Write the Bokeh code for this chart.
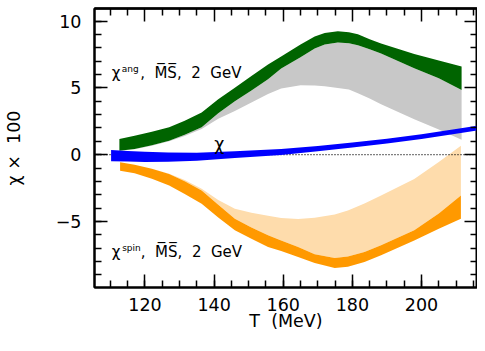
from bokeh.plotting import figure
from bokeh.models import Range1d, LinearAxis, SingleIntervalTicker, FixedTicker, Label
from bokeh.embed import file_html
from bokeh.resources import INLINE

# ---------------- data ----------------
# chi^ang band (green on top of gray)
T_ang = [112.6, 117, 122, 127, 131.5, 136.4, 141.2, 146, 150.8, 155.6, 159.4, 165,
         169.1, 172, 175.8, 179, 181.6, 185, 188.3, 197.9, 205, 211.6]
ang_green_hi = [1.17, 1.42, 1.72, 2.05, 2.55, 3.16, 4.15, 5.02, 5.90, 6.75, 7.35, 8.25,
                8.85, 9.12, 9.25, 9.18, 9.02, 8.65, 8.32, 7.54, 7.05, 6.60]
ang_green_lo = [0.30, 0.42, 0.70, 1.05, 1.50, 2.06, 3.10, 4.00, 4.80, 5.65, 6.45, 7.30,
                7.95, 8.25, 8.40, 8.35, 8.20, 7.90, 7.58, 6.48, 5.72, 4.85]
ang_gray_lo = [0.30, 0.40, 0.66, 1.00, 1.40, 1.92, 2.70, 3.28, 3.90, 4.55, 4.95, 5.20,
               5.18, 5.12, 5.00, 4.88, 4.60, 4.20, 3.78, 2.66, 1.88, 1.12]

# chi^spin band (orange below light orange)
T_spin = [112.8, 117, 122, 127, 131.5, 136.4, 141.2, 146, 150.8, 155.6, 159.4, 164.3,
          169.1, 174.9, 178.7, 183.5, 188.3, 197.9, 205, 211.4]
spin_light_hi = [-0.57, -0.75, -1.05, -1.42, -1.90, -2.55, -3.40, -4.05, -4.35, -4.58, -4.75, -4.82,
                 -4.73, -4.48, -4.18, -3.65, -3.06, -1.82, -0.55, 0.67]
spin_orange_hi = [-0.57, -0.75, -1.05, -1.44, -2.00, -2.69, -3.75, -4.80, -5.45, -6.04, -6.42, -6.92,
                  -7.46, -7.74, -7.62, -7.29, -6.79, -5.67, -4.40, -3.06]
spin_orange_lo = [-1.20, -1.40, -1.80, -2.31, -2.95, -3.68, -4.70, -5.67, -6.30, -6.92, -7.22, -7.66,
                  -8.11, -8.48, -8.40, -8.04, -7.54, -6.42, -5.55, -4.80]

# total chi band (blue)
T_chi = [110.2, 115, 120, 126.7, 135, 146, 159.4, 170, 180, 190, 200, 211.4, 218.3]
chi_hi = [0.35, 0.28, 0.22, 0.17, 0.15, 0.25, 0.42, 0.65, 0.91, 1.20, 1.53, 1.98, 2.26]
chi_lo = [-0.49, -0.52, -0.54, -0.53, -0.45, -0.25, -0.02, 0.25, 0.53, 0.84, 1.17, 1.62, 1.90]

x_start, x_end = 105.4, 216.2
y_start, y_end = -9.95, 10.95
x_major = [120, 140, 160, 180, 200]
x_minor = [110, 115, 125, 130, 135, 145, 150, 155, 165, 170, 175, 185, 190, 195, 205, 210, 215]
y_major = [-5, 0, 5, 10]
y_minor = [-9, -8, -7, -6, -4, -3, -2, -1, 1, 2, 3, 4, 6, 7, 8, 9]
y_tick_overrides = {-5: "\u22125"}

FONT = "DejaVu Sans"
BLACK = "#000000"
NB = "\u00a0"

p = figure(width=477, height=335, x_range=Range1d(x_start, x_end),
           y_range=Range1d(y_start, y_end),
           output_backend="svg", toolbar_location=None,
           min_border_left=93, min_border_right=0, min_border_top=8, min_border_bottom=48)
p.xgrid.grid_line_color = None
p.ygrid.grid_line_color = None
p.outline_line_color = BLACK
p.outline_line_width = 2
p.background_fill_color = "white"
p.border_fill_color = "white"

# bands
p.varea(x=T_ang, y1=ang_gray_lo, y2=ang_green_lo, fill_color="#c8c8c8")
p.varea(x=T_ang, y1=ang_green_lo, y2=ang_green_hi, fill_color="#006400")
p.varea(x=T_spin, y1=spin_orange_hi, y2=spin_light_hi, fill_color="#fedcac")
p.varea(x=T_spin, y1=spin_orange_lo, y2=spin_orange_hi, fill_color="#ff9900")
p.line(x=[x_start, x_end], y=[0, 0], line_color=BLACK, line_width=1.2, line_dash="1 2")
p.varea(x=T_chi, y1=chi_lo, y2=chi_hi, fill_color="#0000ff")


def style_axis(ax):
    ax.axis_line_color = BLACK
    ax.axis_line_width = 2
    ax.major_tick_line_color = BLACK
    ax.minor_tick_line_color = BLACK
    ax.major_tick_line_width = 1.5
    ax.minor_tick_line_width = 1.5
    ax.major_tick_in = 13
    ax.major_tick_out = 0
    ax.minor_tick_in = 7
    ax.minor_tick_out = 0
    ax.major_label_text_font = FONT
    ax.major_label_text_color = BLACK
    ax.major_label_text_font_size = "17.5px"
    ax.axis_label_text_font = FONT
    ax.axis_label_text_font_style = "normal"
    ax.axis_label_text_color = BLACK
    ax.axis_label_text_font_size = "17.5px"


xa = p.xaxis[0]
xa.ticker = SingleIntervalTicker(interval=20, num_minor_ticks=4)
style_axis(xa)
xa.major_label_standoff = 10
xa.axis_label = "T" + NB + " (MeV)"
xa.axis_label_standoff = -3

ya = p.yaxis[0]
ya.ticker = SingleIntervalTicker(interval=5, num_minor_ticks=5)
style_axis(ya)
ya.major_label_standoff = 13
ya.major_label_overrides = y_tick_overrides
ya.axis_label = "\u03c7 \u00d7" + NB + " 100"
ya.axis_label_standoff = 29


def mirror(side, major, minor):
    # tick marks only (no labels): long marks for major values, short for minor
    for vals, length in ((major, 13), (minor, 7)):
        ax = LinearAxis(ticker=FixedTicker(ticks=[], minor_ticks=vals))
        style_axis(ax)
        ax.major_label_standoff = 0
        ax.minor_tick_in = length
        p.add_layout(ax, side)


mirror("above", x_major, x_minor)
mirror("right", y_major, y_minor)


# text labels
def add_label(x, y, text, size, align="left"):
    p.add_layout(Label(x=x, y=y, text=text, text_font=FONT, text_font_size=size,
                       text_color=BLACK, text_baseline="alphabetic", text_align=align))


tail = "," + NB + " M\u0305S\u0305," + NB + " 2" + NB + " GeV"
add_label(110.4, 6.12, "\u03c7", "15px")
add_label(113.3, 6.45, "ang", "9px")
add_label(118.6, 6.12, tail, "15px")

add_label(110.4, -7.3, "\u03c7", "15px")
add_label(113.4, -6.98, "spin", "9px")
add_label(118.8, -7.3, tail, "15px")

add_label(141.5, 0.8, "\u03c7", "17.5px", align="center")

open("out.html", "w").write(file_html(p, INLINE))
